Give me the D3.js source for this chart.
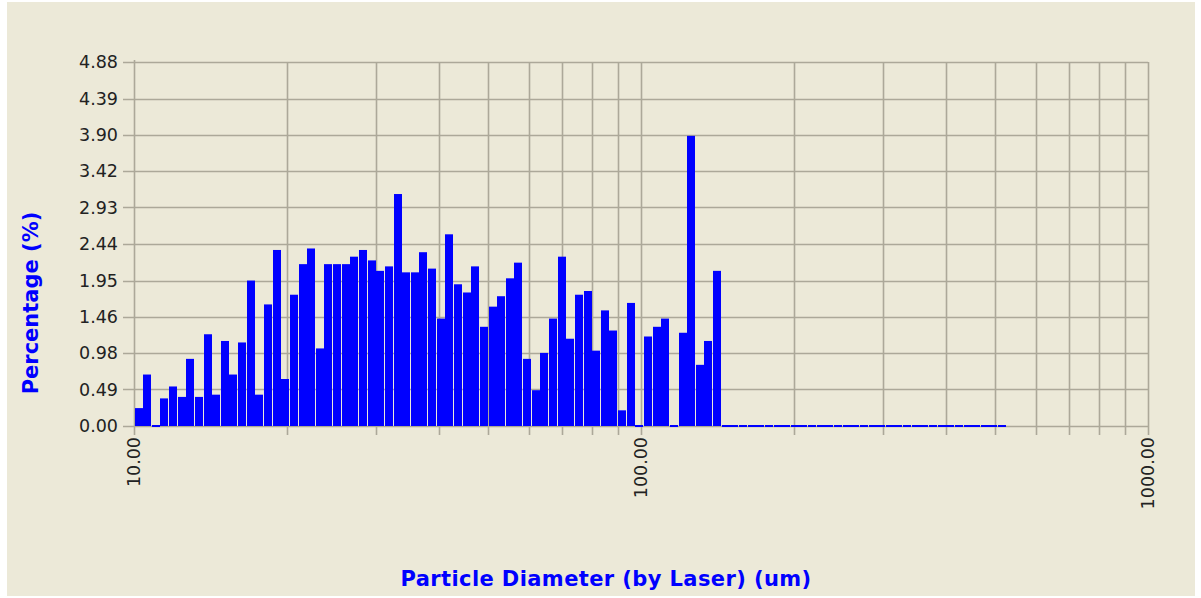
<!DOCTYPE html>
<html>
<head>
<meta charset="utf-8">
<script src="https://cdn.jsdelivr.net/npm/d3@7"></script>
<style>
  html, body { margin: 0; padding: 0; background: #ffffff; }
  svg { display: block; }
</style>
</head>
<body>
<svg id="myGraph" width="1201" height="598"></svg>
<script>
// bin edges (um) of the laser channels
var binEdges = [10.00, 10.40, 10.82, 11.25, 11.70, 12.17, 12.65, 13.16, 13.69, 14.23,
  14.80, 15.39, 16.01, 16.65, 17.32, 18.01, 18.73, 19.48, 20.26, 21.07,
  21.91, 22.79, 23.70, 24.65, 25.63, 26.66, 27.73, 28.83, 29.99, 31.19,
  32.43, 33.73, 35.08, 36.48, 37.94, 39.46, 41.04, 42.68, 44.39, 46.16,
  48.01, 49.93, 51.93, 54.01, 56.17, 58.41, 60.75, 63.18, 65.71, 68.33,
  71.07, 73.91, 76.87, 79.94, 83.14, 86.46, 89.92, 93.52, 97.26, 101.15,
  105.20, 109.40, 113.78, 118.33, 123.07, 127.99, 133.11, 138.43, 143.97, 149.73,
  155.72, 161.95, 168.42, 175.16, 182.17, 189.45, 197.03, 204.91, 213.11, 221.63,
  230.50, 239.72, 249.31, 259.28, 269.65, 280.44, 291.65, 303.32, 315.45, 328.07,
  341.19, 354.84, 369.04, 383.80, 399.15, 415.11, 431.72, 448.99, 466.95, 485.62,
  505.05, 525.25];

// percentage in each channel
var percent = [0.24, 0.69, 0.00, 0.37, 0.53, 0.39, 0.90, 0.39, 1.23, 0.42,
  1.14, 0.69, 1.12, 1.95, 0.42, 1.63, 2.36, 0.63, 1.76, 2.17,
  2.38, 1.04, 2.17, 2.17, 2.17, 2.27, 2.36, 2.22, 2.08, 2.14,
  3.11, 2.06, 2.06, 2.33, 2.11, 1.44, 2.57, 1.90, 1.79, 2.14,
  1.33, 1.60, 1.74, 1.98, 2.19, 0.90, 0.48, 0.98, 1.44, 2.27,
  1.17, 1.76, 1.81, 1.01, 1.55, 1.28, 0.21, 1.65, 0.00, 1.20,
  1.33, 1.44, 0.00, 1.25, 3.89, 0.82, 1.14, 2.08, 0.00, 0.00,
  0.00, 0.00, 0.00, 0.00, 0.00, 0.00, 0.00, 0.00, 0.00, 0.00,
  0.00, 0.00, 0.00, 0.00, 0.00, 0.00, 0.00, 0.00, 0.00, 0.00,
  0.00, 0.00, 0.00, 0.00, 0.00, 0.00, 0.00, 0.00, 0.00, 0.00,
  0.00];

var yTicks = [0.00, 0.49, 0.98, 1.46, 1.95, 2.44, 2.93, 3.42, 3.90, 4.39, 4.88];
var xGrid = [10, 20, 30, 40, 50, 60, 70, 80, 90, 100,
  200, 300, 400, 500, 600, 700, 800, 900, 1000];
var xLabels = [10, 100, 1000];

var svg = d3.select("#myGraph");
var gridColor = "#aca899";

// background panel
svg.append("rect")
  .attr("x", 7).attr("y", 2)
  .attr("width", 1188).attr("height", 594)
  .attr("fill", "#ece9d8");

var x = d3.scaleLog().domain([10, 1000]).range([134, 1148]);
var y = d3.scaleLinear().domain([0, 4.88]).range([426, 62]);

// horizontal grid + left tick stubs
svg.append("g").selectAll("line")
  .data(yTicks)
  .enter()
  .append("line")
  .attr("x1", 123)
  .attr("x2", x(1000))
  .attr("y1", function(d){ return Math.round(y(d)) + 0.5; })
  .attr("y2", function(d){ return Math.round(y(d)) + 0.5; })
  .attr("stroke", gridColor)
  .attr("stroke-width", 1.6);

// vertical grid + bottom tick stubs
svg.append("g").selectAll("line")
  .data(xGrid)
  .enter()
  .append("line")
  .attr("x1", function(d){ return Math.round(x(d)) + 0.5; })
  .attr("x2", function(d){ return Math.round(x(d)) + 0.5; })
  .attr("y1", function(d){ return d == 10 ? y(4.88) - 2 : y(4.88); })
  .attr("y2", y(0) + 9)
  .attr("stroke", gridColor)
  .attr("stroke-width", 1.6);

// bars
var bins = percent.map(function(d, i){
  return { v: d, x0: binEdges[i], x1: binEdges[i + 1] };
});

svg.append("g").selectAll("rect")
  .data(bins)
  .enter()
  .append("rect")
  .attr("x", function(d){ return Math.floor(x(d.x0)) + 1; })
  .attr("width", function(d){ return Math.floor(x(d.x1) - x(d.x0)); })
  .attr("y", function(d){ return d.v > 0 ? y(d.v) : y(0) - 1; })
  .attr("height", function(d){ return d.v > 0 ? y(0) - y(d.v) : 2; })
  .attr("fill", "#0000ff");

// y tick labels
svg.append("g").selectAll("text")
  .data(yTicks)
  .enter()
  .append("text")
  .attr("x", 118)
  .attr("y", function(d){ return y(d); })
  .attr("dy", "0.36em")
  .attr("text-anchor", "end")
  .attr("font-family", "DejaVu Sans, Verdana, sans-serif")
  .attr("font-size", "17.5px")
  .attr("fill", "#222222")
  .text(function(d){ return d.toFixed(2); });

// x tick labels (rotated)
svg.append("g").selectAll("text")
  .data(xLabels)
  .enter()
  .append("text")
  .attr("transform", function(d){ return "translate(" + x(d) + ",437) rotate(-90)"; })
  .attr("dy", "0.36em")
  .attr("text-anchor", "end")
  .attr("font-family", "DejaVu Sans, Verdana, sans-serif")
  .attr("font-size", "17.5px")
  .attr("fill", "#222222")
  .text(function(d){ return d.toFixed(2); });

// axis titles
svg.append("text")
  .attr("x", 606)
  .attr("y", 586)
  .attr("text-anchor", "middle")
  .attr("font-family", "DejaVu Sans, Verdana, sans-serif")
  .attr("font-weight", "bold")
  .attr("font-size", "21px")
  .attr("letter-spacing", "0.4px")
  .attr("fill", "#0000ff")
  .text("Particle Diameter (by Laser) (um)");

svg.append("text")
  .attr("transform", "translate(38,303) rotate(-90)")
  .attr("text-anchor", "middle")
  .attr("font-family", "DejaVu Sans, Verdana, sans-serif")
  .attr("font-weight", "bold")
  .attr("font-size", "21px")
  .attr("fill", "#0000ff")
  .text("Percentage (%)");
</script>
</body>
</html>
